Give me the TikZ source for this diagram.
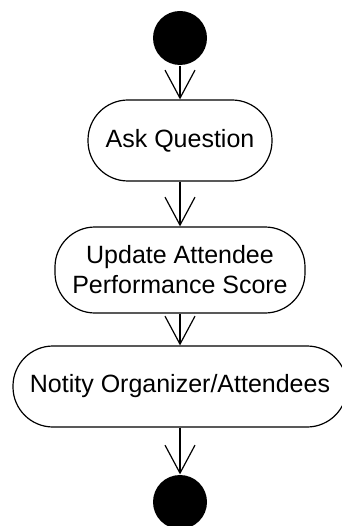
\documentclass[tikz,border=0pt]{standalone}
\usepackage{fontspec}
\setmainfont{Liberation Sans}
\usetikzlibrary{arrows.meta}
\begin{document}
\begin{tikzpicture}[x=1bp,y=-1bp,
  line width=1.2bp,
  dot/.style={circle,fill=black,draw=none,minimum size=54bp,inner sep=0pt},
  act/.style={draw,rectangle,rounded corners=40bp,inner sep=0pt,align=center,
    font=\fontsize{25bp}{30bp}\selectfont},
  arr/.style={-{Straight Barb[length=28bp,width=30bp,line width=1.2bp]}}]
\useasboundingbox (0,0) rectangle (341,526);
\node[dot] (start) at (180,38) {};
\node[act,minimum width=184bp,minimum height=81bp] (ask) at (180,140.5) {Ask Question};
\node[act,minimum width=250bp,minimum height=86bp] (upd) at (180,270) {Update Attendee\\Performance Score};
\node[act,minimum width=334bp,minimum height=81bp] (notify) at (180,386.5) {Notity Organizer/Attendees};
\node[dot] (end) at (180,502) {};
\draw[arr] (start) -- (ask);
\draw[arr] (ask) -- (upd);
\draw[arr] (upd) -- (notify);
\draw[arr] (notify) -- (end);
\end{tikzpicture}
\end{document}
